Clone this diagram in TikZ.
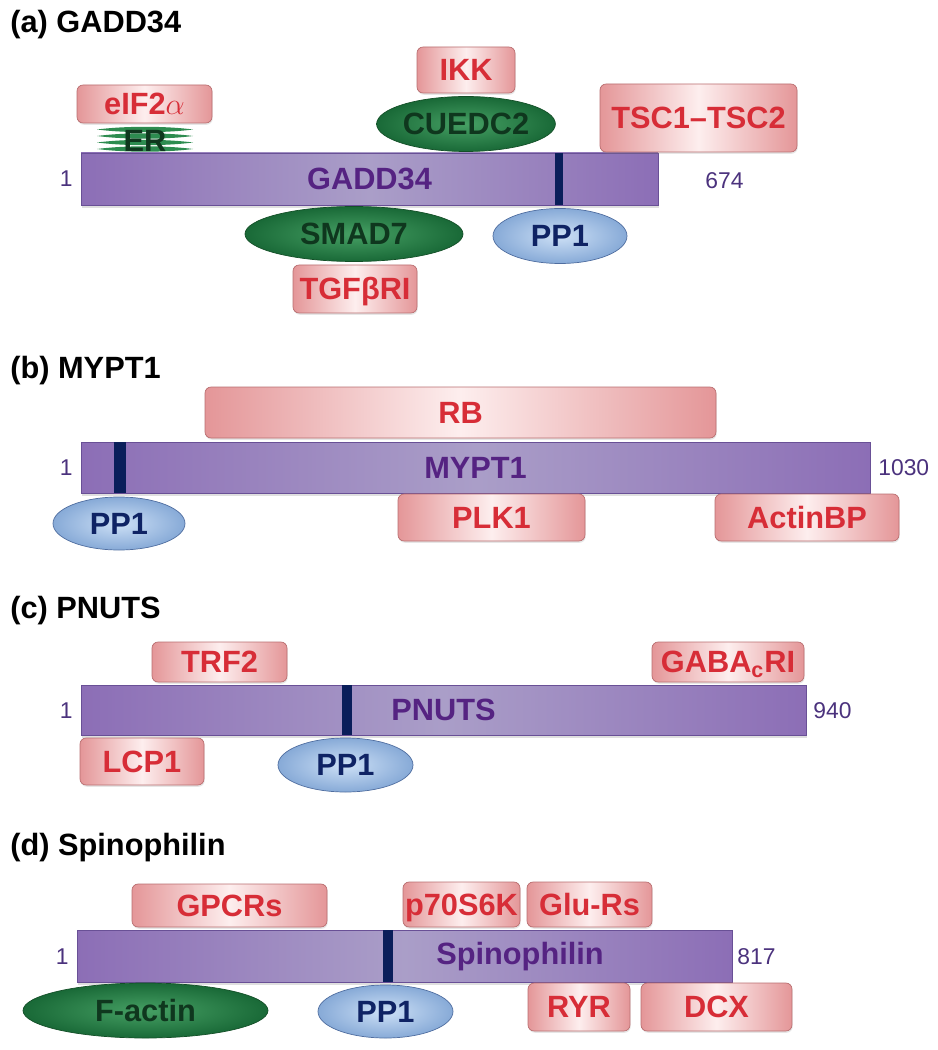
\documentclass[tikz,border=0pt]{standalone}
\usepackage{fontspec}
\setmainfont{Liberation Sans}
\usepackage{tikz}
\usetikzlibrary{shapes,shadows}
\definecolor{barpurple}{RGB}{140,110,182}
\definecolor{barlight}{RGB}{170,158,200}
\definecolor{bardark}{RGB}{105,80,150}
\definecolor{barlabel}{RGB}{85,35,130}
\definecolor{numcol}{RGB}{75,50,125}
\definecolor{boxpink}{RGB}{228,150,152}
\definecolor{boxlight}{RGB}{253,238,238}
\definecolor{boxedge}{RGB}{185,110,112}
\definecolor{boxtext}{RGB}{215,45,55}
\definecolor{grnin}{RGB}{70,160,100}
\definecolor{grnout}{RGB}{25,105,55}
\definecolor{grnedge}{RGB}{20,80,40}
\definecolor{grntext}{RGB}{15,55,30}
\definecolor{ercol}{RGB}{45,140,80}
\definecolor{ppin}{RGB}{205,224,246}
\definecolor{ppout}{RGB}{135,170,215}
\definecolor{ppedge}{RGB}{80,110,160}
\definecolor{pptext}{RGB}{15,35,100}
\definecolor{sitecol}{RGB}{10,30,90}
\newcommand{\lbl}{\fontsize{17.5}{20}\selectfont\bfseries}

\begin{document}
\begin{tikzpicture}[
    x=0.02cm, y=-0.02cm,
    every node/.style={inner sep=0pt},
    sz/.style 2 args={minimum width=#1*0.02cm, minimum height=#2*0.02cm},
    prot/.style={rectangle, left color=barpurple, right color=barpurple,
      middle color=barlight, draw=bardark, thin, text=barlabel, font=\lbl,
      text height=12.5pt, text depth=0pt,
      drop shadow={opacity=.25, shadow xshift=.5pt, shadow yshift=-1.5pt}},
    partner/.style={rectangle, rounded corners=3.5pt, left color=boxpink,
      right color=boxpink, middle color=boxlight, draw=boxedge, thin,
      text=boxtext, font=\lbl, text height=12.5pt, text depth=0pt,
      drop shadow={opacity=.2, shadow xshift=.4pt, shadow yshift=-1pt}},
    gronn/.style={ellipse, inner color=grnin, outer color=grnout,
      draw=grnedge, thin, text=grntext, font=\lbl,
      text height=12.5pt, text depth=0pt},
    pp/.style={ellipse, inner color=ppin, outer color=ppout, draw=ppedge,
      thin, text=pptext, font=\lbl, text height=12.5pt, text depth=0pt},
    site/.style={draw=sitecol, line width=5pt},
    num/.style={text=numcol, font=\fontsize{13}{15}\selectfont},
    titel/.style={anchor=base west, font=\lbl}
    ]
\useasboundingbox (0,0) rectangle (937,1050);

%(a) GADD34
\node[titel] (ta) at (10,33) {(a) GADD34};
\node[prot, sz={577}{52}] (gadd) at (369.5,179) {GADD34};
\draw[site, line width=4.5pt] (559,153) -- (559,205);
\node[num, anchor=east] (gadd1) at (73,179) {1};
\node[num, anchor=west] (gadd2) at (705,181) {674};
\node[partner, sz={135}{38}] (eif) at (144.5,104) {eIF2$\alpha$};
\foreach \y in {129.5,136,142.5,149}
    \fill[ercol] (97,\y) .. controls (125,\y-3.6) and (165,\y-3.6) .. (193,\y)
        .. controls (165,\y+3.6) and (125,\y+3.6) .. (97,\y) -- cycle;
\node[text=grntext, font=\lbl] (er) at (145,141) {ER};
\node[partner, sz={98}{46}] (ikk) at (466,70) {IKK};
\node[gronn, sz={158}{55}] (cue) at (466,124) {CUEDC2};
\node[partner, sz={197}{68}] (tsc) at (698.5,118) {TSC1--TSC2};
\node[gronn, sz={218}{55}] (smad) at (354,234) {SMAD7};
\node[partner, sz={124}{48}] (tgf) at (355,289) {TGFβRI};
\node[pp, sz={134}{55}] (ppa) at (560,236) {PP1};

%(b) MYPT1
\node[titel] (tb) at (10,378) {(b) MYPT1};
\node[partner, sz={511}{51}] (rb) at (460.5,412.5) {RB};
\node[prot, sz={789}{51}] (mypt) at (475.5,467.5) {MYPT1};
\draw[site, line width=7pt] (120,442) -- (120,493);
\node[num, anchor=east] (mypt1) at (73,468) {1};
\node[num, anchor=west] (mypt2) at (878,468) {1030};
\node[pp, sz={132}{53}] (ppb) at (119,523.5) {PP1};
\node[partner, sz={187}{47}] (plk) at (491.5,517.5) {PLK1};
\node[partner, sz={184}{47}] (actin) at (807,517.5) {ActinBP};

%(c) PNUTS
\node[titel] (tc) at (10,618) {(c) PNUTS};
\node[partner, sz={135}{40}] (trf) at (219.5,662) {TRF2};
\node[partner, sz={152}{40}] (gaba) at (728,662) {GABA\textsubscript{c}RI};
\node[prot, sz={725}{50}] (pnuts) at (443.5,710) {PNUTS};
\draw[site, line width=5.5pt] (347,685) -- (347,735);
\node[num, anchor=east] (pnuts1) at (73,711) {1};
\node[num, anchor=west] (pnuts2) at (813,711) {940};
\node[pp, sz={135}{54}] (ppc) at (345.5,765) {PP1};
\node[partner, sz={124}{47}] (lcp) at (142,761.5) {LCP1};

%(d) Spinophilin
\node[titel] (td) at (10,855) {(d) Spinophilin};
\node[partner, sz={195}{43}] (gpcr) at (229.5,905.5) {GPCRs};
\node[partner, sz={117}{45}] (p70) at (461.5,904.5) {p70S6K};
\node[partner, sz={125}{45}] (glu) at (589.5,904.5) {Glu-Rs};
\node[prot, sz={655}{52}] (spino) at (404.5,956) {};
\draw[site, line width=6pt] (388,930) -- (388,982);
\node[text=barlabel, font=\lbl] (spinolbl) at (520,957) {Spinophilin};
\node[num, anchor=east] (spino1) at (69,957) {1};
\node[num, anchor=west] (spino2) at (737,957) {817};
\node[pp, sz={135}{53}] (ppd) at (385.5,1011.5) {PP1};
\node[gronn, sz={245}{55}] (factin) at (145.5,1010.5) {F-actin};
\node[partner, sz={102}{48}] (ryr) at (579,1007) {RYR};
\node[partner, sz={151}{48}] (dcx) at (716.5,1007) {DCX};
\end{tikzpicture}
\end{document}
